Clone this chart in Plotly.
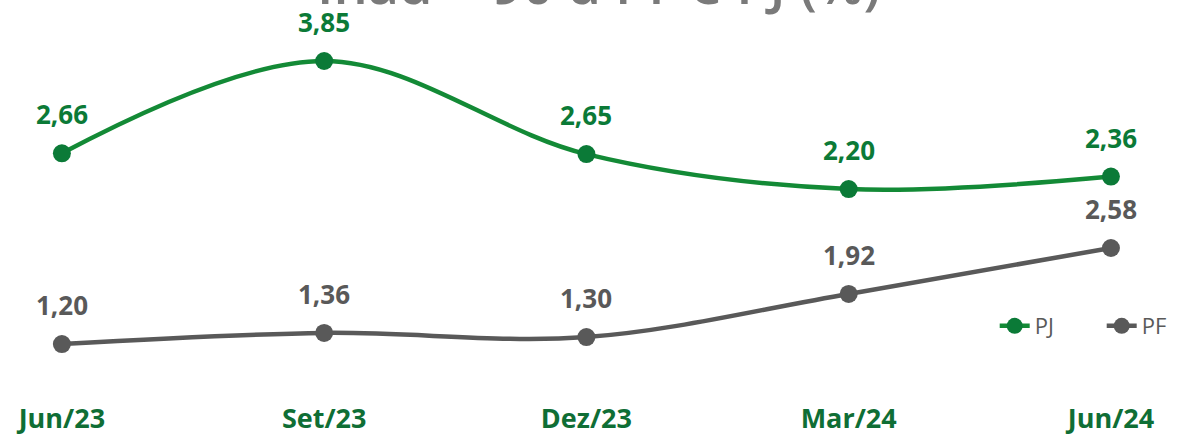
import plotly.graph_objects as go

categories = ["Jun/23", "Set/23", "Dez/23", "Mar/24", "Jun/24"]
pj_values = [2.66, 3.85, 2.65, 2.20, 2.36]
pf_values = [1.20, 1.36, 1.30, 1.92, 2.58]
title_text = "Inad + 90 d PF e PJ (%)"

GREEN_LINE = "#138a36"
GREEN_MARK = "#0b7a37"
GREEN_TEXT = "#0b7a37"
GRAY = "#595959"

def fmt(v):
    return f"{v:.2f}".replace(".", ",")

fig = go.Figure()
fig.add_trace(go.Scatter(
    x=categories, y=pj_values, name="PJ", mode="lines+markers",
    line=dict(color=GREEN_LINE, width=4.5, shape="spline", smoothing=1.0),
    marker=dict(color=GREEN_MARK, size=18, line=dict(width=0)),
    yaxis="y", cliponaxis=False,
))
fig.add_trace(go.Scatter(
    x=categories, y=pf_values, name="PF", mode="lines+markers",
    line=dict(color=GRAY, width=4.5, shape="spline", smoothing=1.0),
    marker=dict(color=GRAY, size=18, line=dict(width=0)),
    yaxis="y2", cliponaxis=False,
))

annotations = []
for c, v in zip(categories, pj_values):
    annotations.append(dict(x=c, y=v, xref="x", yref="y", text=f"<b>{fmt(v)}</b>",
                            showarrow=False, yshift=39, yanchor="middle",
                            font=dict(family="Open Sans", size=26, color=GREEN_TEXT)))
for c, v in zip(categories, pf_values):
    annotations.append(dict(x=c, y=v, xref="x", yref="y2", text=f"<b>{fmt(v)}</b>",
                            showarrow=False, yshift=39, yanchor="middle",
                            font=dict(family="Open Sans", size=26, color=GRAY)))
annotations.append(dict(x=0.505, y=1, xref="paper", yref="paper", text=title_text,
                        showarrow=False, yanchor="middle", yshift=17,
                        font=dict(family="Open Sans", size=54, color="#7a7a7a", weight=600)))

fig.update_layout(
    width=1187, height=436,
    margin=dict(l=0, r=0, t=0, b=36, autoexpand=False),
    paper_bgcolor="white", plot_bgcolor="white",
    showlegend=True,
    legend=dict(orientation="h", x=0.838, xanchor="left", y=0.185, yanchor="middle",
                font=dict(family="Open Sans", size=22, color=GRAY),
                bgcolor="rgba(0,0,0,0)", entrywidth=62, entrywidthmode="pixels"),
    xaxis=dict(type="category", range=[-0.236, 4.29], showgrid=False, zeroline=False,
               showline=False, ticks="", automargin=False,
               tickfont=dict(family="Open Sans", size=27, color="#0f6e35", weight="bold")),
    yaxis=dict(range=[-0.519, 4.636], visible=False),
    yaxis2=dict(range=[0.396, 6.143], visible=False, overlaying="y"),
    annotations=annotations,
)

fig.write_html("out.html", config={"displayModeBar": False},
               post_script="document.body.style.margin='0';document.body.style.overflow='hidden';")
